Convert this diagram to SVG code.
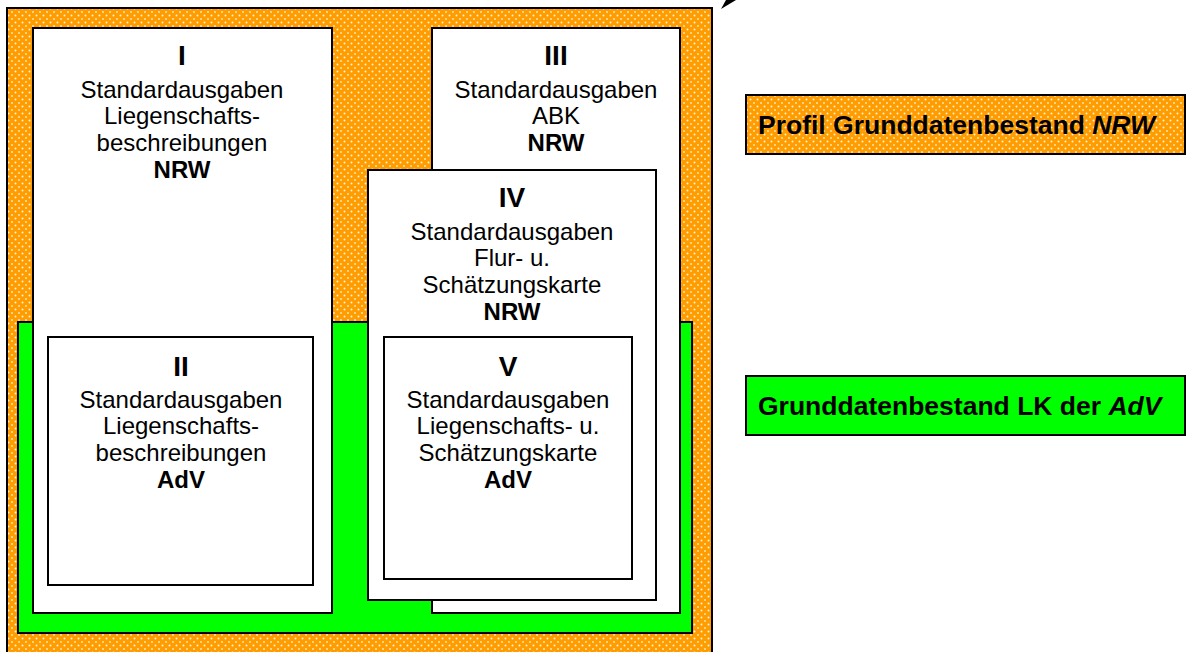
<svg xmlns="http://www.w3.org/2000/svg" width="1191" height="652" viewBox="0 0 1191 652">
<defs>
<pattern id="dots" width="7" height="7" patternUnits="userSpaceOnUse">
<rect width="7" height="7" fill="#FF9C00"/>
<circle cx="1.5" cy="1.5" r="1" fill="#FFF3DC"/>
<circle cx="5" cy="5" r="1" fill="#FFE3B0"/>
</pattern>
<style>
.box{fill:#fff;stroke:#000;stroke-width:2}
.t{font-family:"Liberation Sans",Arial,sans-serif;font-size:24px;fill:#000;text-anchor:middle}
.n{font-family:"Liberation Sans",Arial,sans-serif;font-size:28px;font-weight:bold;fill:#000;text-anchor:middle}
.b{font-weight:bold}
.leg{font-family:"Liberation Sans",Arial,sans-serif;font-size:26.5px;font-weight:bold;fill:#000}
</style>
</defs>
<rect width="1191" height="652" fill="#fff"/>
<g id="profil">
<rect x="7" y="8" width="705" height="660" fill="url(#dots)" stroke="#000" stroke-width="2"/>
</g>
<g id="grund">
<rect x="18" y="322" width="674" height="311" fill="#00FF00" stroke="#000" stroke-width="2"/>
</g>
<g id="boxI">
<rect class="box" x="33" y="28" width="299" height="585"/>
<text class="n" x="182" y="65">I</text>
<text class="t" x="182" y="98">Standardausgaben</text>
<text class="t" x="182" y="124">Liegenschafts-</text>
<text class="t" x="182" y="151">beschreibungen</text>
<text class="t b" x="182" y="178">NRW</text>
</g>
<g id="boxII">
<rect class="box" x="48" y="337" width="265" height="248"/>
<text class="n" x="181" y="376">II</text>
<text class="t" x="181" y="408">Standardausgaben</text>
<text class="t" x="181" y="434">Liegenschafts-</text>
<text class="t" x="181" y="461">beschreibungen</text>
<text class="t b" x="181" y="488">AdV</text>
</g>
<g id="boxIII">
<rect class="box" x="432" y="28" width="248" height="585"/>
<text class="n" x="556" y="65">III</text>
<text class="t" x="556" y="98">Standardausgaben</text>
<text class="t" x="556" y="124">ABK</text>
<text class="t b" x="556" y="151">NRW</text>
</g>
<g id="boxIV">
<rect class="box" x="368" y="170" width="288" height="430"/>
<text class="n" x="512" y="207">IV</text>
<text class="t" x="512" y="240">Standardausgaben</text>
<text class="t" x="512" y="266">Flur- u.</text>
<text class="t" x="512" y="293">Schätzungskarte</text>
<text class="t b" x="512" y="320">NRW</text>
</g>
<g id="boxV">
<rect class="box" x="384" y="337" width="248" height="242"/>
<text class="n" x="508" y="376">V</text>
<text class="t" x="508" y="408">Standardausgaben</text>
<text class="t" x="508" y="434">Liegenschafts- u.</text>
<text class="t" x="508" y="461">Schätzungskarte</text>
<text class="t b" x="508" y="488">AdV</text>
</g>
<g id="legendProfil">
<rect x="746" y="95" width="439" height="59" fill="url(#dots)" stroke="#000" stroke-width="2"/>
<text class="leg" x="758" y="134">Profil Grunddatenbestand <tspan font-style="italic">NRW</tspan></text>
</g>
<g id="legendGrund">
<rect x="746" y="376" width="439" height="59" fill="#00FF00" stroke="#000" stroke-width="2"/>
<text class="leg" x="758" y="415">Grunddatenbestand LK der <tspan font-style="italic">AdV</tspan></text>
</g>
<g id="connectors">
<polygon points="721,9 726,0 736,0" fill="#000"/>
</g>
</svg>
